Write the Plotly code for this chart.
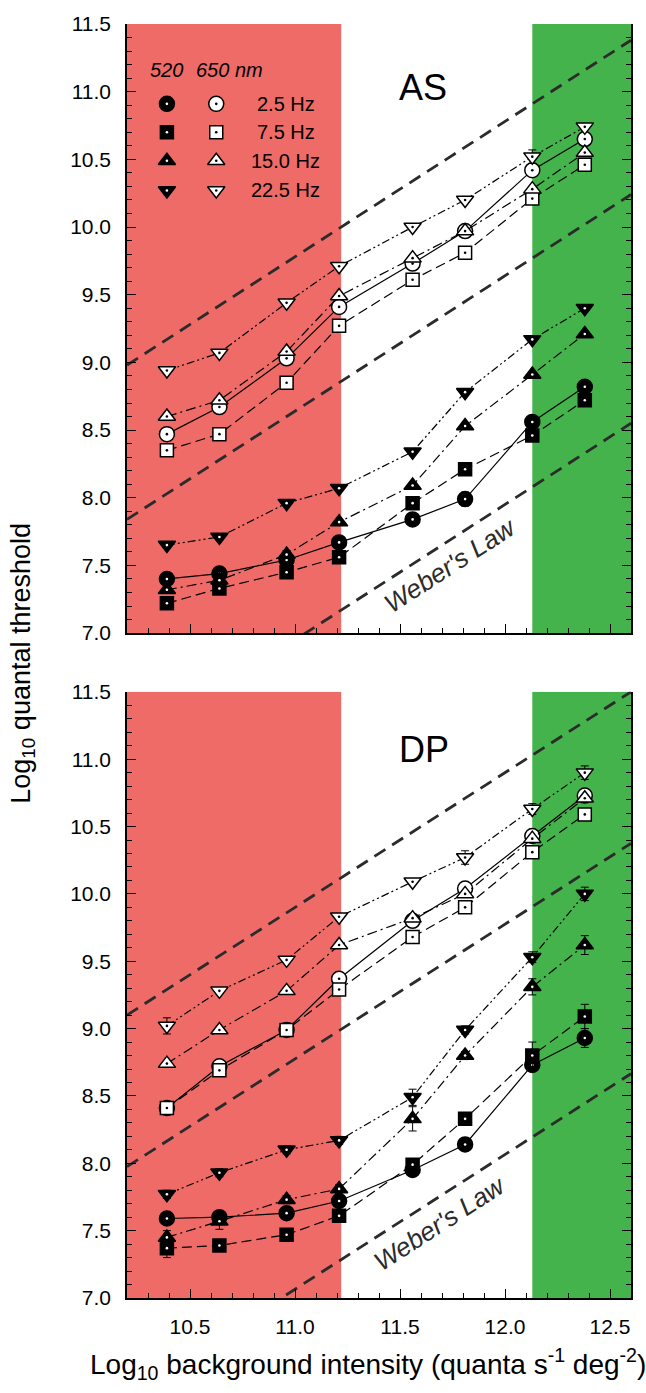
import plotly.graph_objects as go

# ---------------- data ----------------
x_int = [10.39, 10.64, 10.96, 11.21, 11.56, 11.81, 12.13, 12.38]

freq_labels = ["2.5 Hz", "7.5 Hz", "15.0 Hz", "22.5 Hz"]

# AS
as_520_2_5 = [7.40, 7.44, 7.54, 7.67, 7.84, 7.99, 8.56, 8.82]
as_520_7_5 = [7.22, 7.33, 7.45, 7.56, 7.96, 8.21, 8.46, 8.72]
as_520_15 = [7.32, 7.39, 7.58, 7.82, 8.09, 8.53, 8.91, 9.21]
as_520_22_5 = [7.65, 7.71, 7.96, 8.07, 8.34, 8.78, 9.17, 9.40]
as_650_2_5 = [8.47, 8.67, 9.03, 9.41, 9.73, 9.97, 10.42, 10.65]
as_650_7_5 = [8.35, 8.47, 8.85, 9.27, 9.61, 9.81, 10.21, 10.46]
as_650_15 = [8.60, 8.72, 9.08, 9.49, 9.77, 9.97, 10.28, 10.55]
as_650_22_5 = [8.94, 9.07, 9.44, 9.71, 10.00, 10.20, 10.52, 10.74]

as_err_520_2_5 = [0.02, 0.02, 0.02, 0.02, 0.02, 0.05, 0.02, 0.03]
as_err_520_7_5 = [0.02, 0.02, 0.02, 0.02, 0.02, 0.02, 0.02, 0.02]
as_err_520_15 = [0.02, 0.02, 0.03, 0.02, 0.02, 0.02, 0.02, 0.02]
as_err_520_22_5 = [0.02, 0.02, 0.02, 0.02, 0.02, 0.02, 0.02, 0.02]
as_err_650_2_5 = [0.02, 0.02, 0.02, 0.02, 0.02, 0.02, 0.02, 0.02]
as_err_650_7_5 = [0.02, 0.02, 0.02, 0.02, 0.02, 0.02, 0.02, 0.02]
as_err_650_15 = [0.02, 0.02, 0.02, 0.02, 0.02, 0.02, 0.02, 0.02]
as_err_650_22_5 = [0.02, 0.02, 0.02, 0.02, 0.02, 0.02, 0.05, 0.02]

# DP
dp_520_2_5 = [7.59, 7.60, 7.63, 7.72, 7.95, 8.14, 8.73, 8.93]
dp_520_7_5 = [7.37, 7.39, 7.47, 7.61, 7.99, 8.33, 8.80, 9.09]
dp_520_15 = [7.45, 7.57, 7.73, 7.81, 8.33, 8.80, 9.31, 9.62]
dp_520_22_5 = [7.77, 7.93, 8.10, 8.17, 8.49, 8.99, 9.53, 10.00]
dp_650_2_5 = [8.41, 8.72, 8.99, 9.37, 9.80, 10.04, 10.43, 10.73]
dp_650_7_5 = [8.41, 8.69, 8.99, 9.29, 9.68, 9.90, 10.31, 10.59]
dp_650_15 = [8.74, 8.99, 9.28, 9.62, 9.82, 10.00, 10.41, 10.71]
dp_650_22_5 = [9.02, 9.28, 9.51, 9.83, 10.09, 10.27, 10.63, 10.90]

dp_err_520_2_5 = [0.03, 0.02, 0.02, 0.02, 0.03, 0.03, 0.04, 0.07]
dp_err_520_7_5 = [0.07, 0.03, 0.03, 0.03, 0.03, 0.03, 0.10, 0.09]
dp_err_520_15 = [0.05, 0.06, 0.03, 0.03, 0.09, 0.03, 0.06, 0.07]
dp_err_520_22_5 = [0.03, 0.03, 0.03, 0.03, 0.06, 0.03, 0.04, 0.05]
dp_err_650_2_5 = [0.02, 0.02, 0.02, 0.02, 0.02, 0.02, 0.02, 0.02]
dp_err_650_7_5 = [0.02, 0.02, 0.02, 0.02, 0.02, 0.02, 0.02, 0.02]
dp_err_650_15 = [0.02, 0.02, 0.02, 0.02, 0.02, 0.02, 0.02, 0.02]
dp_err_650_22_5 = [0.06, 0.02, 0.02, 0.02, 0.02, 0.05, 0.04, 0.05]

# Weber's law reference lines (intercept of y = x + c)
as_weber_offsets = [-1.22, -2.36, -4.05]
dp_weber_offsets = [-1.10, -2.225, -3.935]

# background bands
red_band = [10.2, 11.22]
green_band = [12.13, 12.6]

# ---------------- styling ----------------
FONT = "Liberation Sans, Arial, Helvetica, sans-serif"
X_RANGE = [10.2, 12.6]
Y_RANGE = [7.0, 11.5]
RED = "#EF6B67"
GREEN = "#44B34B"

symbols = ["circle", "square", "triangle-up", "triangle-down"]
sizes = [15, 13, 15, 15]
dashes = ["solid", "10px,5px", "10px,4px,2px,4px", "8px,3px,2px,3px,2px,3px"]

fig = go.Figure()

def add_panel(xa, ya, series520, series650, err520, err650, offsets):
    # weber lines
    for c in offsets:
        fig.add_trace(go.Scatter(
            x=X_RANGE, y=[X_RANGE[0] + c, X_RANGE[1] + c], mode="lines",
            line=dict(color="#2b2b2b", width=2.8, dash="13px,8px"),
            xaxis=xa, yaxis=ya, showlegend=False, hoverinfo="skip"))
    # data series
    for k in range(4):
        for ys, es, filled in ((series520[k], err520[k], True), (series650[k], err650[k], False)):
            fig.add_trace(go.Scatter(
                x=x_int, y=ys, mode="lines+markers",
                line=dict(color="black", width=1.2, dash=dashes[k]),
                marker=dict(symbol=symbols[k], size=sizes[k],
                            color="black" if filled else "white",
                            line=dict(color="black", width=1.5)),
                error_y=dict(type="data", array=es, visible=True, color="black",
                             thickness=1, width=4),
                xaxis=xa, yaxis=ya, showlegend=False))
            fig.add_trace(go.Scatter(
                x=x_int, y=ys, mode="markers",
                marker=dict(symbol="circle", size=2.6,
                            color="white" if filled else "black", line=dict(width=0)),
                xaxis=xa, yaxis=ya, showlegend=False, hoverinfo="skip"))

add_panel("x", "y",
          [as_520_2_5, as_520_7_5, as_520_15, as_520_22_5],
          [as_650_2_5, as_650_7_5, as_650_15, as_650_22_5],
          [as_err_520_2_5, as_err_520_7_5, as_err_520_15, as_err_520_22_5],
          [as_err_650_2_5, as_err_650_7_5, as_err_650_15, as_err_650_22_5],
          as_weber_offsets)
add_panel("x2", "y2",
          [dp_520_2_5, dp_520_7_5, dp_520_15, dp_520_22_5],
          [dp_650_2_5, dp_650_7_5, dp_650_15, dp_650_22_5],
          [dp_err_520_2_5, dp_err_520_7_5, dp_err_520_15, dp_err_520_22_5],
          [dp_err_650_2_5, dp_err_650_7_5, dp_err_650_15, dp_err_650_22_5],
          dp_weber_offsets)

# ---------------- legend (custom, top panel) ----------------
leg_x_filled = 10.39
leg_x_open = 10.625
leg_x_text = 10.955
leg_ys = [10.91, 10.70, 10.49, 10.27]
for k in range(4):
    for lx, filled in ((leg_x_filled, True), (leg_x_open, False)):
        fig.add_trace(go.Scatter(
            x=[lx], y=[leg_ys[k]], mode="markers",
            marker=dict(symbol=symbols[k], size=sizes[k],
                        color="black" if filled else "white",
                        line=dict(color="black", width=1.5)),
            xaxis="x", yaxis="y", showlegend=False, hoverinfo="skip"))
        fig.add_trace(go.Scatter(
            x=[lx], y=[leg_ys[k]], mode="markers",
            marker=dict(symbol="circle", size=2.6,
                        color="white" if filled else "black", line=dict(width=0)),
            xaxis="x", yaxis="y", showlegend=False, hoverinfo="skip"))

annotations = []
for k in range(4):
    annotations.append(dict(x=leg_x_text, y=leg_ys[k], xref="x", yref="y",
                            text=freq_labels[k], showarrow=False,
                            font=dict(family=FONT, size=20, color="black"),
                            xanchor="center", yanchor="middle"))
annotations.append(dict(x=10.39, y=11.16, xref="x", yref="y", text="<i>520</i>",
                        showarrow=False, font=dict(family=FONT, size=20, color="black"),
                        xanchor="center", yanchor="middle"))
annotations.append(dict(x=10.69, y=11.16, xref="x", yref="y", text="<i>650 nm</i>",
                        showarrow=False, font=dict(family=FONT, size=20, color="black"),
                        xanchor="center", yanchor="middle"))

# panel labels
annotations.append(dict(x=11.61, y=11.03, xref="x", yref="y", text="AS", showarrow=False,
                        font=dict(family=FONT, size=36, color="black"),
                        xanchor="center", yanchor="middle"))
annotations.append(dict(x=11.615, y=11.07, xref="x2", yref="y2", text="DP", showarrow=False,
                        font=dict(family=FONT, size=36, color="black"),
                        xanchor="center", yanchor="middle"))
# Weber's law labels
annotations.append(dict(x=11.74, y=7.50, xref="x", yref="y", text="<i>Weber's Law</i>",
                        showarrow=False, textangle=-33,
                        font=dict(family=FONT, size=26, color="#2b2b2b"),
                        xanchor="center", yanchor="middle"))
annotations.append(dict(x=11.69, y=7.56, xref="x2", yref="y2", text="<i>Weber's Law</i>",
                        showarrow=False, textangle=-33,
                        font=dict(family=FONT, size=26, color="#2b2b2b"),
                        xanchor="center", yanchor="middle"))
# axis titles
annotations.append(dict(x=-0.208, y=0.498, xref="paper", yref="paper",
                        text="Log<sub>10</sub> quantal threshold", showarrow=False,
                        textangle=-90, font=dict(family=FONT, size=27, color="black"),
                        xanchor="center", yanchor="middle"))
annotations.append(dict(x=0.478, y=-0.052, xref="paper", yref="paper",
                        text="Log<sub>10</sub> background intensity (quanta s<sup>-1</sup> deg<sup>-2</sup>)",
                        showarrow=False, font=dict(family=FONT, size=28, color="black"),
                        xanchor="center", yanchor="middle"))

shapes = []
for xr, yr in (("x", "y"), ("x2", "y2")):
    shapes.append(dict(type="rect", xref=xr, yref=yr, x0=red_band[0], x1=red_band[1],
                       y0=Y_RANGE[0], y1=Y_RANGE[1], fillcolor=RED, line=dict(width=0),
                       layer="below"))
    shapes.append(dict(type="rect", xref=xr, yref=yr, x0=green_band[0], x1=green_band[1],
                       y0=Y_RANGE[0], y1=Y_RANGE[1], fillcolor=GREEN, line=dict(width=0),
                       layer="below"))

def xaxis_cfg(domain_anchor, show_labels):
    return dict(range=X_RANGE, showgrid=False, zeroline=False, showline=True,
                linecolor="black", linewidth=1.5, mirror=False,
                ticks="inside", ticklen=9, tickwidth=1.3, tickcolor="black",
                tick0=10.0, dtick=0.5, tickformat=".1f",
                showticklabels=show_labels, ticklabelstandoff=9,
                tickfont=dict(family=FONT, size=21, color="black"),
                minor=dict(ticks="inside", ticklen=5, tickwidth=1.1, tickcolor="black",
                           dtick=0.1, tick0=10.0, showgrid=False),
                anchor=domain_anchor, fixedrange=True)

def yaxis_cfg(domain, anchor):
    return dict(range=Y_RANGE, domain=domain, showgrid=False, zeroline=False,
                showline=True, linecolor="black", linewidth=1.5, mirror="ticks",
                ticks="inside", ticklen=9, tickwidth=1.3, tickcolor="black",
                tick0=7.0, dtick=0.5, tickformat=".1f", ticklabelstandoff=10,
                tickfont=dict(family=FONT, size=21, color="black"),
                minor=dict(ticks="inside", ticklen=5, tickwidth=1.1, tickcolor="black",
                           dtick=0.1, tick0=7.0, showgrid=False),
                anchor=anchor, fixedrange=True)

fig.update_layout(
    width=646, height=1393,
    margin=dict(l=127, r=15, t=18, b=95),
    paper_bgcolor="white", plot_bgcolor="white",
    showlegend=False,
    xaxis=xaxis_cfg("y", False),
    yaxis=yaxis_cfg([0.5219, 1.0], "x"),
    xaxis2=xaxis_cfg("y2", True),
    yaxis2=yaxis_cfg([0.0, 0.4758], "x2"),
    shapes=shapes, annotations=annotations,
    font=dict(family=FONT),
)

fig.write_html("out.html")
